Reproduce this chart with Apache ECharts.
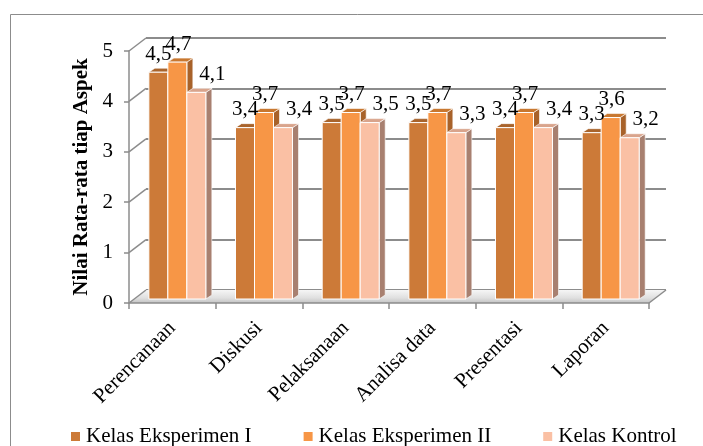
<!DOCTYPE html>
<html>
<head>
<meta charset="utf-8">
<script src="https://cdn.jsdelivr.net/npm/echarts@6/dist/echarts.min.js"></script>
<style>
html,body{margin:0;padding:0;background:#fff;}
#chart01{width:703px;height:446px;}
</style>
</head>
<body>
<div id="chart01"></div>
<script>
// data
var categories = ['Perencanaan', 'Diskusi', 'Pelaksanaan', 'Analisa data', 'Presentasi', 'Laporan'];
var seriesNames = ['Kelas Eksperimen I', 'Kelas Eksperimen II', 'Kelas Kontrol'];
var eksperimen1 = [4.5, 3.4, 3.5, 3.5, 3.4, 3.3];
var eksperimen2 = [4.7, 3.7, 3.7, 3.7, 3.7, 3.6];
var kontrol = [4.1, 3.4, 3.5, 3.3, 3.4, 3.2];
var yTicks = [0, 1, 2, 3, 4, 5];

// warna: depan, atas, samping
var frontColors = ['#CC7A38', '#F79646', '#FAC0A4'];
var topColors = ['#A9642C', '#C8772F', '#D9A48C'];
var sideColors = ['#9B5A27', '#A8622A', '#A88070'];
var labelShift = [0, 1, 16];

var FONT = '"Liberation Serif", "Times New Roman", serif';
var BAR_W = 19, DX = 6, DY = -4, LIFT = 4;
var WALL_DX = 17, WALL_DY = -13;

function fmt(v) {
  return String(v).replace('.', ',');
}

function bar3d(idx) {
  return function (params, api) {
    var c = api.value(0), v = api.value(1);
    var base = api.coord([c, 0]);
    var top = api.coord([c, v]);
    var band = api.size([1, 0])[0];
    var x0 = base[0] - band * 0.271 + idx * BAR_W;
    var by = base[1] - LIFT, ty = top[1] - LIFT;
    var w = BAR_W;
    return {
      type: 'group',
      children: [
        {
          type: 'polygon', z2: idx * 10,
          shape: { points: [[x0 + w, ty], [x0 + w + DX, ty + DY], [x0 + w + DX, by + DY], [x0 + w, by]] },
          style: { fill: sideColors[idx], stroke: '#fff', lineWidth: 0.6 }
        },
        {
          type: 'polygon', z2: idx * 10 + 1,
          shape: { points: [[x0, ty], [x0 + w, ty], [x0 + w + DX, ty + DY], [x0 + DX, ty + DY]] },
          style: { fill: topColors[idx], stroke: '#fff', lineWidth: 0.6 }
        },
        {
          type: 'rect', z2: idx * 10 + 2,
          shape: { x: x0, y: ty, width: w, height: by - ty },
          style: { fill: frontColors[idx], stroke: '#fff', lineWidth: 1 }
        },
        {
          type: 'text', z2: 100,
          style: {
            text: fmt(v), x: x0 + w / 2 + labelShift[idx], y: ty - 18,
            fill: '#000', font: '21px ' + FONT, align: 'center', verticalAlign: 'middle'
          }
        }
      ]
    };
  };
}

// dinding samping dan lantai
function wallRender(params, api) {
  var v = api.value(1);
  var band = api.size([1, 0])[0];
  var p = api.coord([0, v]);
  var xl = p[0] - band / 2;
  var children = [];
  if (v === 0) {
    var pr = api.coord([categories.length - 1, 0]);
    var xr = pr[0] + band / 2;
    children.push({
      type: 'polygon', z2: 0,
      shape: { points: [[xl, p[1]], [xr, p[1]], [xr + WALL_DX, p[1] + WALL_DY], [xl + WALL_DX, p[1] + WALL_DY]] },
      style: {
        fill: new echarts.graphic.LinearGradient(0, 0, 0, 1, [
          { offset: 0, color: '#f6f6f6' }, { offset: 0.6, color: '#e0e0e0' }, { offset: 1, color: '#c4c4c4' }
        ]),
        stroke: null
      }
    });
    children.push({
      type: 'line', z2: 1,
      shape: { x1: xr, y1: p[1], x2: xr + WALL_DX, y2: p[1] + WALL_DY },
      style: { stroke: '#8c8c8c', lineWidth: 1.5 }
    });
  }
  children.push({
    type: 'line', z2: 1,
    shape: { x1: xl, y1: p[1], x2: xl + WALL_DX, y2: p[1] + WALL_DY },
    style: { stroke: '#8c8c8c', lineWidth: 1.5 }
  });
  return { type: 'group', children: children };
}

function pairs(arr) {
  return arr.map(function (v, i) { return [i, v]; });
}

var chart01 = echarts.init(document.getElementById('chart01'), null, { renderer: 'canvas' });
var allValues = [eksperimen1, eksperimen2, kontrol];

var option = {
  animation: false,
  backgroundColor: '#fff',
  textStyle: { fontFamily: FONT },
  graphic: [{
    type: 'rect', left: 8, top: 12,
    shape: { width: 720, height: 500 },
    style: { fill: null, stroke: '#8c8c8c', lineWidth: 1 },
    silent: true
  }],
  legend: {
    data: seriesNames,
    top: 421,
    left: 66,
    itemGap: 52,
    itemWidth: 9,
    itemHeight: 9,
    icon: 'rect',
    textStyle: { fontFamily: FONT, fontSize: 21, color: '#000', padding: [2, 0, 0, 1] }
  },
  grid: [
    { left: 129, right: 54, top: 51, bottom: 143 },
    { left: 129 + WALL_DX, right: 54 - WALL_DX, top: 51 + WALL_DY, bottom: 143 - WALL_DY }
  ],
  xAxis: [
    {
      type: 'category', gridIndex: 0, data: categories,
      axisLine: { lineStyle: { color: '#8c8c8c', width: 1.5 } },
      axisTick: { show: true, length: 6, lineStyle: { color: '#8c8c8c', width: 1.5 } },
      axisLabel: { rotate: 45, margin: 22, interval: 0, fontFamily: FONT, fontSize: 21, color: '#000' },
      z: 5
    },
    { type: 'category', gridIndex: 1, data: categories, show: false }
  ],
  yAxis: [
    {
      type: 'value', gridIndex: 0, min: 0, max: 5, interval: 1,
      name: 'Nilai Rata-rata tiap Aspek',
      nameLocation: 'middle', nameGap: 33,
      nameTextStyle: { fontFamily: FONT, fontSize: 21, fontWeight: 'bold', color: '#000' },
      axisLine: { show: true, lineStyle: { color: '#8c8c8c', width: 1.5 } },
      axisTick: { show: true, length: 5, lineStyle: { color: '#8c8c8c', width: 1.5 } },
      axisLabel: { margin: 16, fontFamily: FONT, fontSize: 21, color: '#000' },
      splitLine: { show: false },
      z: 5
    },
    {
      type: 'value', gridIndex: 1, min: 0, max: 5, interval: 1,
      axisLine: { show: false }, axisTick: { show: false }, axisLabel: { show: false },
      splitLine: { show: true, lineStyle: { color: '#8c8c8c', width: 2 } }
    }
  ],
  series: [
    {
      name: 'wall', type: 'custom', xAxisIndex: 0, yAxisIndex: 0, z: 1,
      itemStyle: { color: '#8c8c8c' },
      renderItem: wallRender,
      data: yTicks.map(function (t) { return [0, t]; }),
      silent: true
    }
  ].concat(seriesNames.map(function (name, i) {
    return {
      name: name, type: 'custom', xAxisIndex: 0, yAxisIndex: 0, z: 2,
      itemStyle: { color: frontColors[i] },
      renderItem: bar3d(i),
      data: pairs(allValues[i])
    };
  }))
};
chart01.setOption(option);
</script>
</body>
</html>
